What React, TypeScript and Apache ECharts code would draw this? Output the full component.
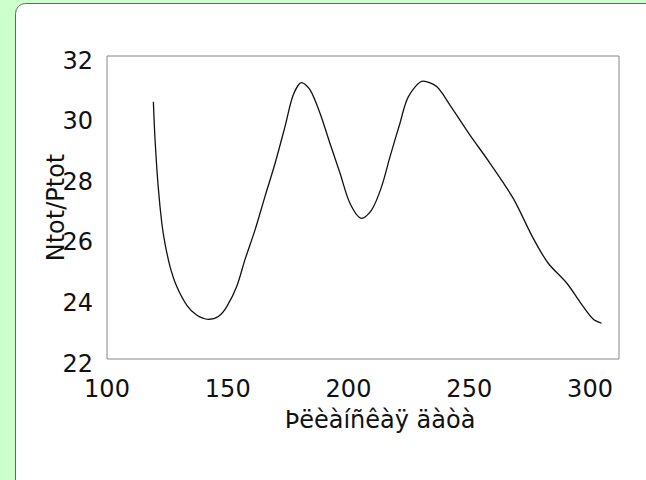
import React, { useEffect, useRef } from "react";
import * as echarts from "echarts";

const xValues = [119.2, 119.9, 121.2, 122.7, 124.0, 126.1, 128.9, 133.0, 137.1, 141.9, 146.1, 149.6, 153.7, 157.1, 161.3, 165.4, 169.6, 173.7, 177.1, 180.6, 184.1, 188.2, 192.3, 196.5, 200.6, 205.5, 209.6, 213.7, 217.2, 221.3, 224.8, 231.0, 236.5, 242.0, 250.3, 258.6, 268.2, 276.5, 282.7, 290.4, 297.2, 301.4, 304.8];
const yValues = [30.49, 29.23, 27.69, 26.48, 25.82, 25.05, 24.39, 23.78, 23.45, 23.31, 23.40, 23.73, 24.39, 25.27, 26.26, 27.36, 28.46, 29.67, 30.71, 31.12, 30.88, 30.11, 29.12, 28.13, 27.14, 26.64, 26.92, 27.69, 28.68, 29.78, 30.66, 31.17, 30.99, 30.38, 29.39, 28.46, 27.30, 25.98, 25.16, 24.50, 23.73, 23.31, 23.18];
const xTicks = [100, 150, 200, 250, 300];
const yTicks = [22, 24, 26, 28, 30, 32];
const xName = "Þëèàíñêàÿ äàòà";
const yName = "Ntot/Ptot";

export default function App() {
  const ref = useRef<HTMLDivElement>(null);
  useEffect(() => {
    if (!ref.current) return;
    const chart = echarts.init(ref.current, null, { renderer: "svg" });
    const font = "DejaVu Sans";
    chart.setOption({
      animation: false,
      backgroundColor: "#ccffcc",
      graphic: [
        {
          type: "rect",
          z: -10,
          shape: { x: 15.5, y: 3.5, width: 700, height: 600, r: 10 },
          style: { fill: "#ffffff", stroke: "#666666", lineWidth: 1 },
        },
      ],
      grid: {
        left: 107,
        top: 56,
        width: 512,
        height: 303,
        show: true,
        backgroundColor: "#ffffff",
        borderColor: "#888888",
        borderWidth: 1,
        z: 1,
      },
      xAxis: {
        type: "value",
        min: xTicks[0],
        max: 312,
        interval: 50,
        name: xName,
        nameLocation: "middle",
        nameGap: 49,
        nameMoveOverlap: false,
        nameTextStyle: { fontFamily: font, fontSize: 24, color: "#111", padding: [0, 0, 0, 34] },
        axisLine: { show: false },
        axisTick: { show: false },
        splitLine: { show: false },
        axisLabel: {
          fontFamily: font,
          fontSize: 24,
          color: "#111",
          margin: 18,
          showMaxLabel: false,
          formatter: (v: number) => (xTicks.includes(v) ? String(v) : ""),
        },
      },
      yAxis: {
        type: "value",
        min: yTicks[0],
        max: yTicks[yTicks.length - 1],
        interval: 2,
        name: yName,
        nameLocation: "middle",
        nameGap: 39,
        nameMoveOverlap: false,
        nameTextStyle: { fontFamily: font, fontSize: 24, color: "#111" },
        axisLine: { show: false },
        axisTick: { show: false },
        splitLine: { show: false },
        axisLabel: {
          fontFamily: font,
          fontSize: 24,
          color: "#111",
          margin: 14,
          verticalAlign: "top",
          lineHeight: 9,
        },
      },
      series: [
        {
          type: "line",
          data: xValues.map((x, i) => [x, yValues[i]]),
          smooth: 0.3,
          showSymbol: false,
          lineStyle: { color: "#111111", width: 1.3 },
        },
      ],
    });
    return () => chart.dispose();
  }, []);
  return (
    <div
      ref={ref}
      style={{ position: "fixed", left: 0, top: 0, width: 646, height: 480 }}
    />
  );
}
